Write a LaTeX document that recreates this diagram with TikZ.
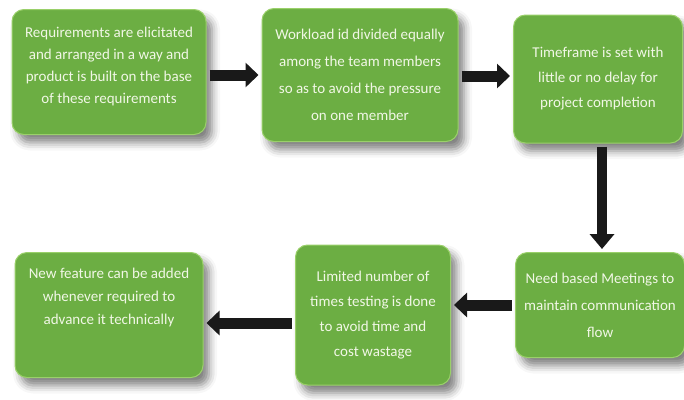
\documentclass[tikz,border=0pt]{standalone}
\usepackage{fontspec}
\setmainfont{Carlito}
\usetikzlibrary{arrows.meta, shadows.blur}

\definecolor{boxgreen}{HTML}{6CAE43}
\definecolor{boxedge}{HTML}{9AD06A}
\definecolor{boxtext}{HTML}{F1F7E6}

\begin{document}
\begin{tikzpicture}[x=1pt, y=-1pt, >={Triangle[length=13pt, width=24pt]},
    stage/.style={rectangle, rounded corners=12pt, fill=boxgreen, draw=boxedge,
        line width=1pt, text=boxtext, align=center, font=\fontsize{15}{25}\selectfont,
        inner sep=0pt, blur shadow={shadow xshift=6pt, shadow yshift=-8pt,
        shadow blur radius=8pt, shadow opacity=50}},
    flow/.style={->, line width=11pt, black!90, shorten <=3pt, shorten >=3pt}]
    \useasboundingbox (0,0) rectangle (684,399);

    % Top row
    \node[stage, font=\fontsize{15}{22}\selectfont, minimum width=194pt, minimum height=125pt] (req) at (109,72)
        {Requirements are elicitated\\ and arranged in a way and\\ product is built on the base\\ of these requirements\\[-9pt]};
    \node[stage, font=\fontsize{15}{27}\selectfont, minimum width=196pt, minimum height=133pt] (work) at (360,75)
        {Workload id divided equally\\ among the team members\\ so as to avoid the pressure\\ on one member};
    \node[stage, minimum width=169pt, minimum height=128pt] (time) at (598,79)
        {Timeframe is set with\\ little or no delay for\\ project completion};

    % Bottom row
    \node[stage, font=\fontsize{15}{27}\selectfont, minimum width=169pt, minimum height=105pt] (meet) at (600,305)
        {Need based Meetings to\\ maintain communication\\ flow};
    \node[stage, minimum width=155pt, minimum height=140pt] (test) at (373,315)
        {Limited number of\\ times testing is done\\ to avoid time and\\ cost wastage};
    \node[stage, font=\fontsize{15}{23}\selectfont, minimum width=188pt, minimum height=125pt] (feat) at (109,315)
        {New feature can be added\\ whenever required to\\ advance it technically\\[15pt]};

    % Arrows between the stages
    \draw[flow] ([yshift=-3pt]req.east) -- ([yshift=-3pt]req.east -| work.west);
    \draw[flow] ([yshift=-1pt]work.east) -- ([yshift=-1pt]work.east -| time.west);
    \draw[flow, line width=10pt, >={Triangle[length=15pt, width=24pt]}]
        ([xshift=4pt]time.south) -- ([xshift=4pt]time.south |- meet.north);
    \draw[flow] (meet.west) -- (meet.west -| test.east);
    \draw[flow] ([yshift=-8pt]test.west) -- ([yshift=-8pt]test.west -| feat.east);
\end{tikzpicture}
\end{document}
